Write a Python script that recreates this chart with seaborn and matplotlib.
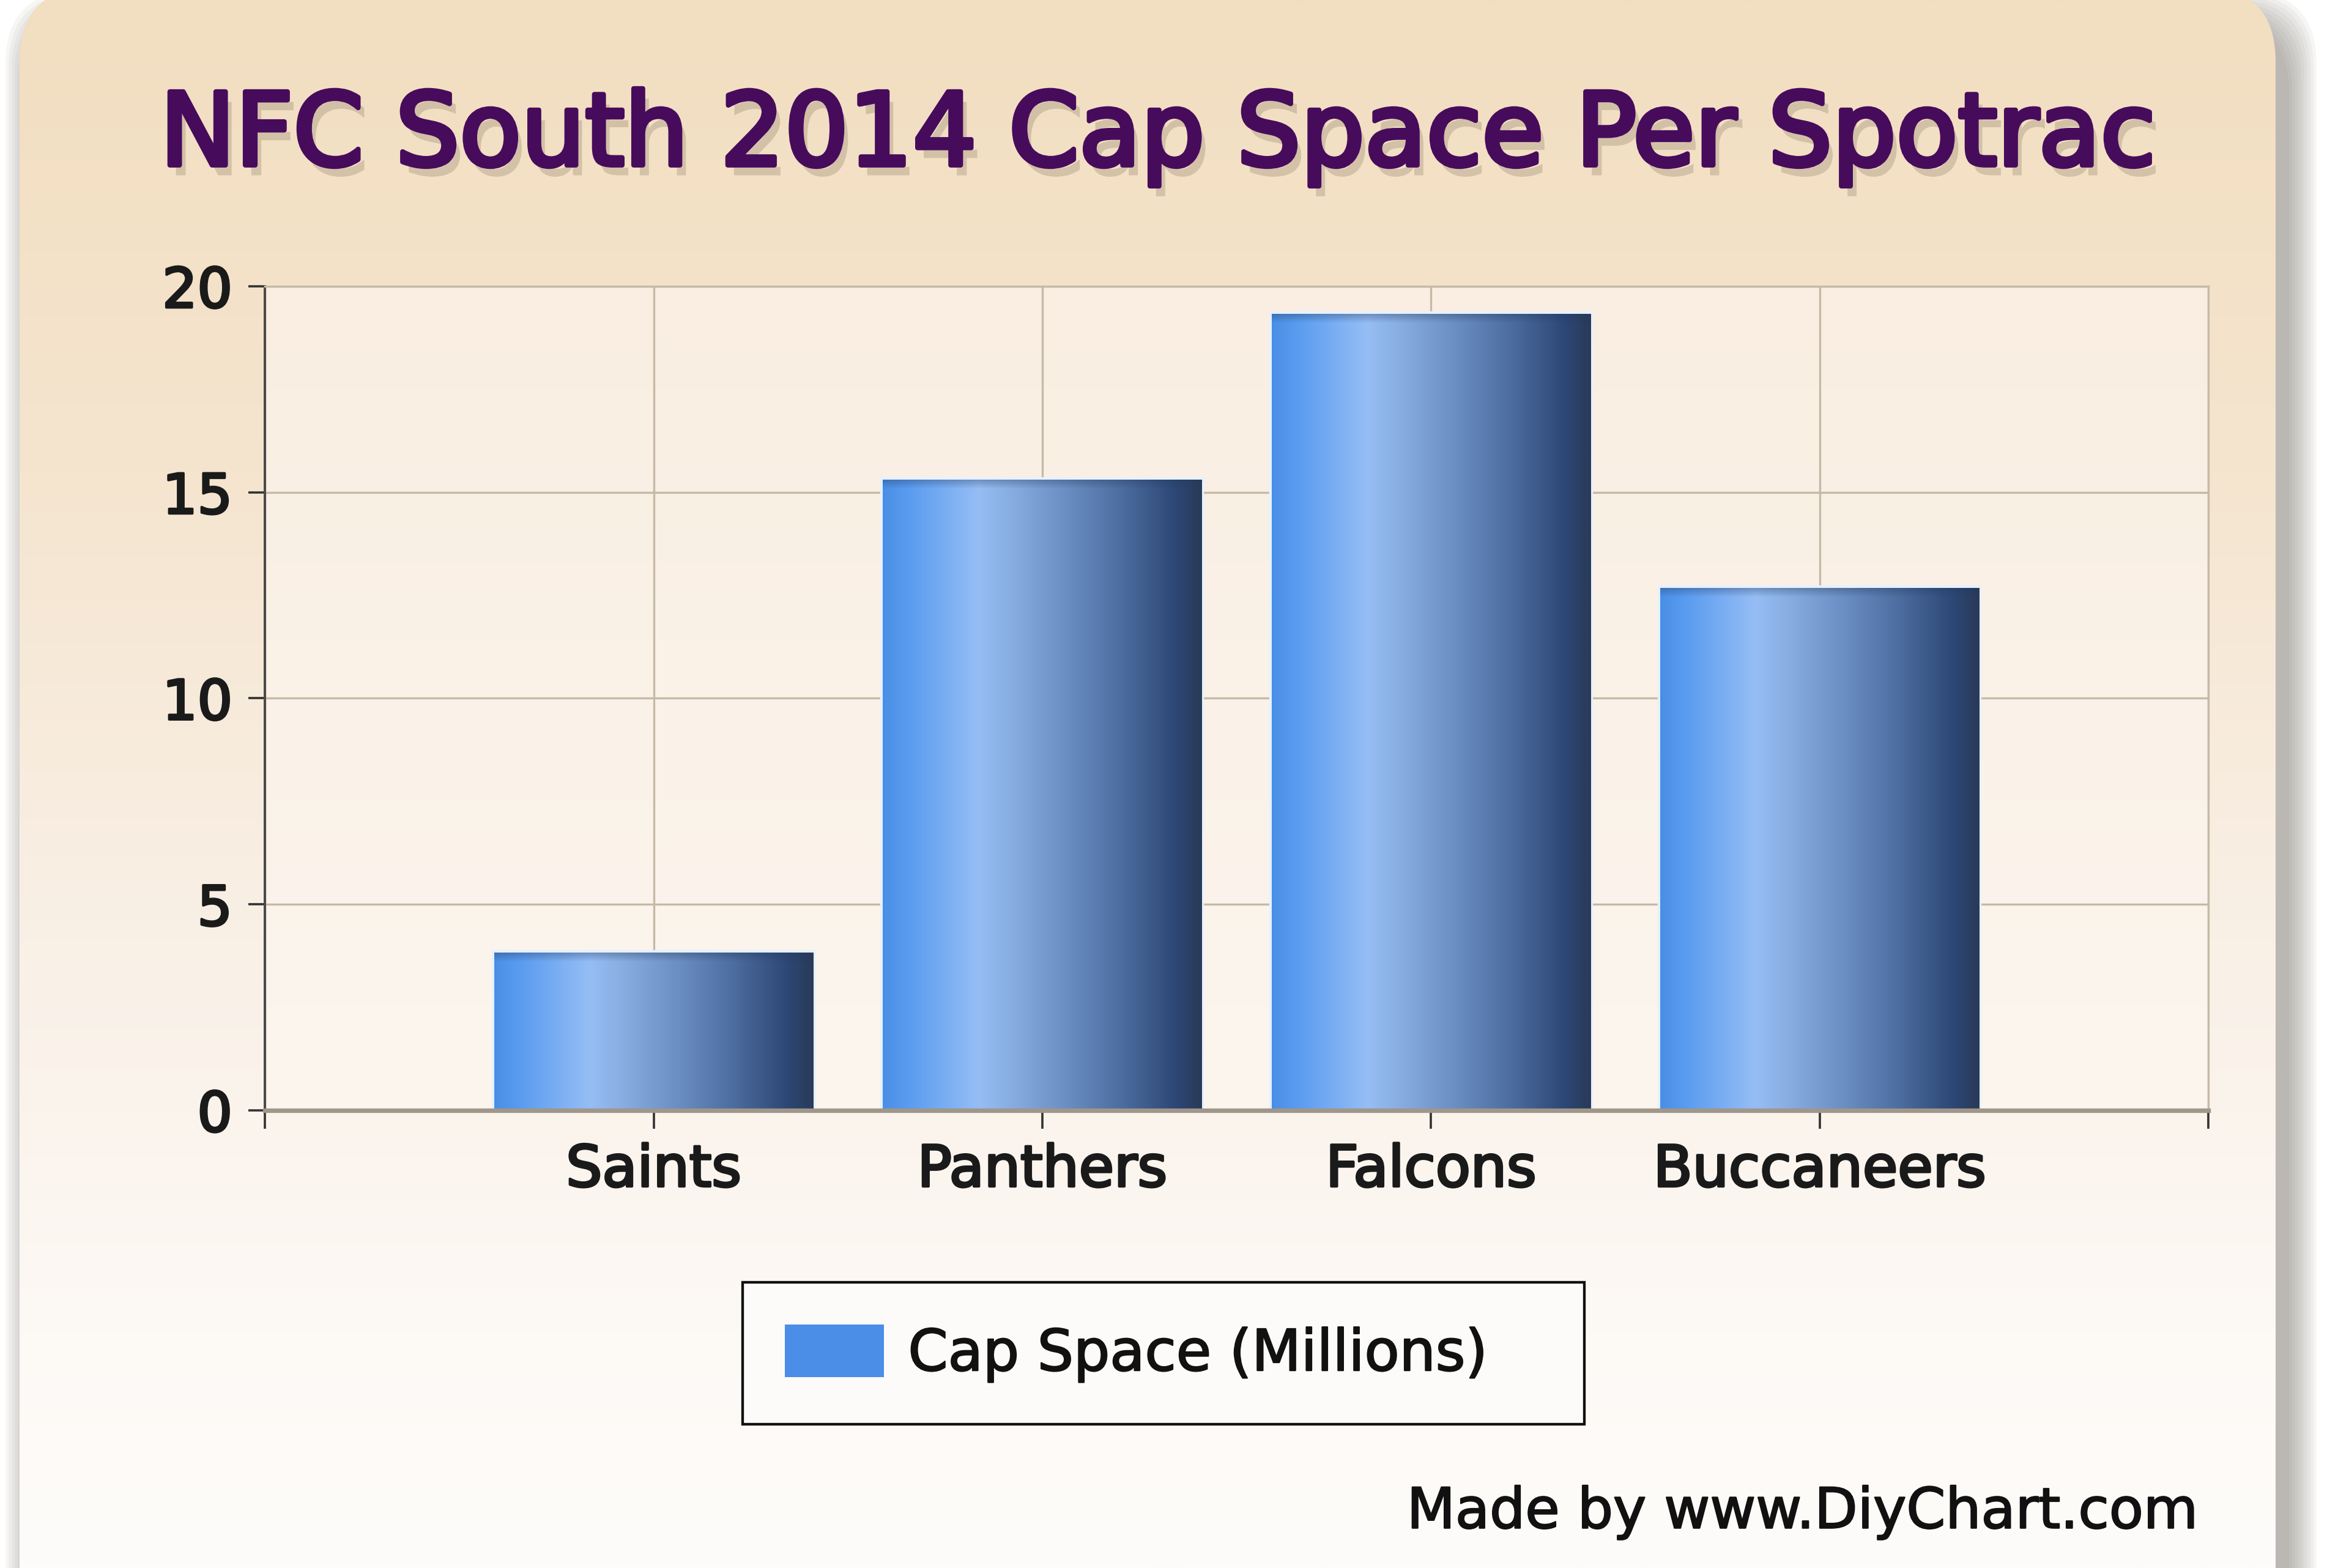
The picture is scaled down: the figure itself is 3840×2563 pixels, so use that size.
import numpy as np
import pandas as pd
import matplotlib
matplotlib.use("Agg")
import matplotlib.pyplot as plt
import seaborn as sns
from matplotlib.patches import FancyBboxPatch, Patch
from matplotlib.colors import LinearSegmentedColormap
import matplotlib.patheffects as pe

# ---------------- data ----------------
teams = ["Saints", "Panthers", "Falcons", "Buccaneers"]
cap_space = [3.83, 15.31, 19.33, 12.68]
y_ticks = [0, 5, 10, 15, 20]
x_tick_labels = ["", "Saints", "Panthers", "Falcons", "Buccaneers", ""]
title = "NFC South 2014 Cap Space Per Spotrac"
series_name = "Cap Space (Millions)"
credit = "Made by www.DiyChart.com"

# ---------------- setup ----------------
W, H = 3840, 2563
DPI = 240
sns.set_style("white")
plt.rcParams["font.family"] = ["DejaVu Sans"]

fig = plt.figure(figsize=(W / DPI, H / DPI), dpi=DPI, facecolor="white")


def heavy(w, c):
    return [pe.Stroke(linewidth=w, foreground=c), pe.Normal()]


# ---------------- card background ----------------
bg = fig.add_axes([0, 0, 1, 1], zorder=-10)
bg.set_xlim(0, W)
bg.set_ylim(0, H)
bg.axis("off")

card_x0, card_x1 = 32, 3720
card_bottom, card_top = -300, H + 20
style = "round,pad=0,rounding_size=120"

# soft shadow
for k in range(10):
    e = (9 - k) * 5
    sh = FancyBboxPatch((card_x0 + 22 - e, card_bottom - 20 - e),
                        card_x1 - card_x0 + 2 * e, card_top - card_bottom + 2 * e - 30,
                        boxstyle=style, facecolor="#6a625a", edgecolor="none",
                        alpha=0.055, zorder=1)
    bg.add_patch(sh)

card = FancyBboxPatch((card_x0, card_bottom), card_x1 - card_x0, card_top - card_bottom,
                      boxstyle=style, facecolor="none", edgecolor="none", zorder=2)
bg.add_patch(card)
card_cmap = LinearSegmentedColormap.from_list(
    "card", [(0.0, "#f2dec0"), (0.3, "#f5e5cf"), (0.6, "#f9f0e6"),
             (0.85, "#fdf9f5"), (1.0, "#fefcfa")])
grad_v = card_cmap(np.linspace(0, 1, 256))[:, None, :3]
im_bg = bg.imshow(grad_v, extent=(0, W, 0, H), aspect="auto", origin="upper",
                  zorder=3, interpolation="bilinear")
im_bg.set_clip_path(card)
bg.set_xlim(0, W)
bg.set_ylim(0, H)

# ---------------- main axes ----------------
left, right, bottom, top = 0.1128, 0.9401, 0.2919, 0.8174
ax = fig.add_axes([left, bottom, right - left, top - bottom])
ax.set_facecolor("none")

df = pd.DataFrame({"team": teams, "cap": cap_space})
sns.barplot(data=df, x="team", y="cap", order=teams, ax=ax, width=0.82,
            color="#4a8ee8", saturation=1, zorder=2)

# plot-area gradient
plot_cmap = LinearSegmentedColormap.from_list("plot", ["#f9eee1", "#fcf6ef"])
grad_p = plot_cmap(np.linspace(0, 1, 256))[:, None, :3]
ax.imshow(grad_p, extent=(-1, 4, 0, 20), aspect="auto", origin="upper",
          zorder=0, interpolation="bilinear")

# bar gradients
bar_cmap = LinearSegmentedColormap.from_list(
    "bar", [(0.00, "#4a8fe6"), (0.08, "#5a9cf0"), (0.30, "#96bef5"),
            (0.42, "#85aade"), (0.58, "#6a8dc2"), (0.75, "#4c6d9f"),
            (0.92, "#2c4775"), (1.00, "#2a3a58")])
grad_h = bar_cmap(np.linspace(0, 1, 256))[None, :, :3]
# darker shading along the top edge of each bar
top_shade = np.zeros((64, 1, 4))
top_shade[..., :3] = np.array([0.15, 0.22, 0.35])
top_shade[:, 0, 3] = np.linspace(0.35, 0.0, 64)
shade_depth = 0.22  # in value units
for p in list(ax.patches):
    bb = p.get_bbox()
    im = ax.imshow(grad_h, extent=(bb.x0, bb.x1, bb.y0, bb.y1), aspect="auto",
                   zorder=2.5, interpolation="bilinear")
    im.set_clip_path(p)
    im2 = ax.imshow(top_shade, extent=(bb.x0, bb.x1, bb.y1 - shade_depth, bb.y1),
                    aspect="auto", origin="upper", zorder=2.6, interpolation="bilinear")
    im2.set_clip_path(p)
    p.set_facecolor("none")
    p.set_edgecolor("#e6f1fd")
    p.set_linewidth(2.5)

ax.set_xlim(-1, 4)
ax.set_ylim(0, 20)
ax.set_xticks(range(-1, 5))
ax.set_xticklabels(x_tick_labels, fontsize=28, color="#1a1a1a")
ax.set_yticks(y_ticks)
ax.set_yticklabels([str(v) for v in y_ticks], fontsize=27, color="#1a1a1a")
for t in ax.get_xticklabels() + ax.get_yticklabels():
    t.set_path_effects(heavy(1.2, "#1a1a1a"))
ax.set_xlabel("")
ax.set_ylabel("")

ax.set_axisbelow(True)
ax.grid(True, color="#c6b9a7", linewidth=1.0)
ax.tick_params(axis="x", bottom=True, direction="out", length=9, width=1.1,
               color="#333333", pad=7)
ax.tick_params(axis="y", left=True, direction="out", length=8, width=1.1,
               color="#333333", pad=8)

for s in ["top", "right"]:
    ax.spines[s].set_visible(True)
    ax.spines[s].set_color("#c6b9a7")
    ax.spines[s].set_linewidth(1.0)
ax.spines["left"].set_color("#4a4a4a")
ax.spines["left"].set_linewidth(1.2)
ax.spines["bottom"].set_color("#a0968a")
ax.spines["bottom"].set_linewidth(2.2)

# ---------------- title ----------------
title_color = "#470b5c"
fig.text(0.493, 0.8947, title, ha="center", va="baseline", fontsize=49.4,
         color=title_color,
         path_effects=[pe.SimplePatchShadow(offset=(3, -5), shadow_rgbFace="#8a7a66",
                                            alpha=0.3),
                       pe.Stroke(linewidth=2.4, foreground=title_color),
                       pe.Normal()])

# ---------------- legend ----------------
leg = fig.legend(handles=[Patch(facecolor="#4a8ee8", edgecolor="none", label=series_name)],
                 loc="center", bbox_to_anchor=(0.3161, 0.0913, 0.3583, 0.0913),
                 mode="expand", borderaxespad=0, fontsize=28,
                 handlelength=1.74, handleheight=1.05, handletextpad=0.42,
                 borderpad=0.74, fancybox=False, framealpha=1,
                 facecolor="#fdfbf9", edgecolor="#111111")
leg.get_frame().set_linewidth(1.3)
for t in leg.get_texts():
    t.set_color("#111111")
    t.set_path_effects(heavy(0.7, "#111111"))

# ---------------- credit ----------------
fig.text(0.9357, 0.0255, credit, ha="right", va="baseline", fontsize=27.5,
         color="#111111", path_effects=heavy(0.7, "#111111"))

fig.savefig("out.png", dpi=DPI, facecolor="white")
